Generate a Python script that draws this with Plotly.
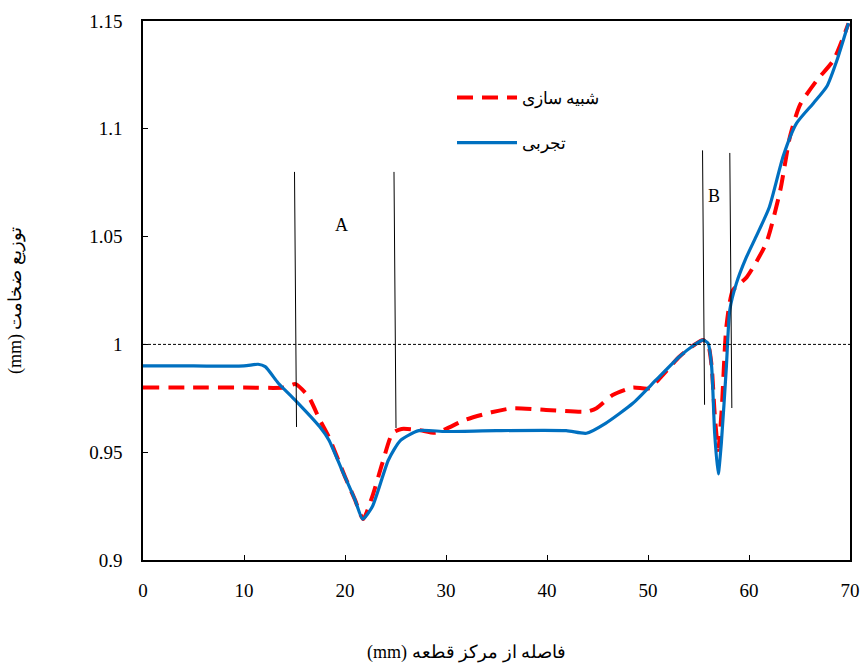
import plotly.graph_objects as go

# Simulation (red dashed)
sim_x = [0, 5, 10, 14, 15.1, 16.4, 17.5, 18.4, 20.0, 21.0, 21.8, 22.7, 23.7, 24.7, 25.6, 27.3, 29.0,
         31.9, 34.5, 36.6, 39.9, 43.9, 44.9, 46.5, 48.5, 50.1, 51.5, 53.1, 54.5, 55.45, 55.95, 56.3,
         56.6, 56.95, 57.3, 57.76, 58.4, 59.75, 61.7, 63.1, 64.05, 65.04, 66.7, 68.35, 69.85]
sim_y = [0.980, 0.980, 0.980, 0.980, 0.9816, 0.9757, 0.965, 0.957, 0.9386, 0.9278, 0.919, 0.9294,
         0.9449, 0.9588, 0.9608, 0.9603, 0.959, 0.965, 0.9685, 0.9704, 0.9696, 0.9688, 0.9704, 0.9765,
         0.980, 0.9796, 0.986, 0.9943, 0.9995, 1.002, 1.000, 0.990, 0.968, 0.951, 0.970, 1.0082, 1.025,
         1.031, 1.047, 1.0716, 1.0963, 1.111, 1.1224, 1.1317, 1.1489]

# Experimental (blue solid)
exp_x = [0, 5, 10, 11.4, 12.1, 13.4, 15.06, 17.5, 18.4, 19.7, 21.0, 21.75, 22.7, 24.3, 25.5, 27.3,
         29.96, 35, 41.9, 43.9, 45.8, 48.5, 50.8, 53.1, 54.5, 55.45, 55.95, 56.3, 56.6, 56.95, 57.26,
         57.76, 58.1, 58.75, 59.7, 60.7, 62.0, 63.4, 64.7, 66.4, 67.7, 68.7, 69.85]
exp_y = [0.990, 0.990, 0.990, 0.9908, 0.9897, 0.982, 0.9742, 0.9618, 0.9557, 0.9417, 0.9278, 0.919,
         0.9247, 0.9464, 0.9555, 0.960, 0.9596, 0.960, 0.960, 0.9588, 0.9634, 0.9727, 0.9835, 0.9943,
         0.9995, 1.002, 1.0005, 0.9897, 0.9588, 0.9399, 0.9541, 0.9897, 1.016, 1.0283, 1.040, 1.050,
         1.0635, 1.0875, 1.1025, 1.112, 1.1196, 1.1317, 1.149]

# Region marker lines: x start/end, y start/end
marker_x0 = [15.0, 24.85, 55.4, 58.1]
marker_x1 = [15.2, 25.05, 55.6, 58.3]
marker_y0 = [1.080, 1.080, 1.090, 1.0888]
marker_y1 = [0.9617, 0.9612, 0.972, 0.9705]

region_labels = ["A", "B"]
region_x = [19.7, 56.5]
region_y = [1.0554, 1.069]

x_ticks = [0, 10, 20, 30, 40, 50, 60, 70]
y_ticks = [0.9, 0.95, 1.0, 1.05, 1.1, 1.15]
y_tick_text = ["0.9", "0.95", "1", "1.05", "1.1", "1.15"]

x_title = "(mm) فاصله از مرکز قطعه"
y_title = "(mm) توزیع ضخامت"

FONT = "Liberation Serif"
L, R, T, B = 143, 14, 21, 103
PW, PH = 864 - L - R, 663 - T - B

fig = go.Figure()
fig.add_trace(go.Scatter(x=sim_x, y=sim_y, mode="lines", name="شبیه سازی",
                         line=dict(color="#FF0000", width=4, dash="16px,9px", shape="spline", smoothing=0.6),
                         legendgroup="a"))
fig.add_trace(go.Scatter(x=exp_x, y=exp_y, mode="lines", name="تجربی",
                         line=dict(color="#0070C0", width=3.2, shape="spline", smoothing=0.6),
                         legendgroup="b"))

shapes = [dict(type="line", xref="x", yref="y", x0=0, x1=70, y0=1.0, y1=1.0,
               line=dict(color="black", width=1, dash="3px,2px"))]
for x0, x1, y0, y1 in zip(marker_x0, marker_x1, marker_y0, marker_y1):
    shapes.append(dict(type="line", xref="x", yref="y", x0=x0, x1=x1, y0=y0, y1=y1,
                       line=dict(color="black", width=1)))

annotations = []
for t, ax, ay in zip(region_labels, region_x, region_y):
    annotations.append(dict(text=t, x=ax, y=ay, xref="x", yref="y", showarrow=False,
                            font=dict(family=FONT, size=18, color="black")))
annotations.append(dict(text=x_title, x=(466 - L) / PW, y=-(652 - 560) / PH,
                        xref="paper", yref="paper", showarrow=False, xanchor="center", yanchor="middle",
                        font=dict(family=FONT, size=18, color="black")))
annotations.append(dict(text=y_title, x=-(L - 15) / PW, y=(560 - 301) / PH,
                        xref="paper", yref="paper", showarrow=False, textangle=-90,
                        xanchor="center", yanchor="middle",
                        font=dict(family=FONT, size=18, color="black")))

fig.update_layout(
    width=864, height=663,
    margin=dict(l=L, r=R, t=T, b=B, autoexpand=False),
    paper_bgcolor="white", plot_bgcolor="white",
    font=dict(family=FONT, size=18, color="black"),
    showlegend=True,
    legend=dict(x=(452 - L) / PW, y=(560 - 80) / PH, xanchor="left", yanchor="top",
                bgcolor="rgba(0,0,0,0)", font=dict(family=FONT, size=17),
                traceorder="grouped", tracegroupgap=20, itemwidth=60),
    shapes=shapes, annotations=annotations,
)
fig.update_xaxes(range=[0, 70], tickvals=x_ticks, showgrid=False, zeroline=False,
                 showline=True, linecolor="black", linewidth=1.5, mirror=True,
                 ticks="inside", ticklen=5, tickcolor="black", automargin=False,
                 ticklabelstandoff=12,
                 tickfont=dict(family=FONT, size=19))
fig.update_yaxes(range=[0.9, 1.15], tickvals=y_ticks, ticktext=y_tick_text, showgrid=False,
                 zeroline=False, showline=True, linecolor="black", linewidth=1.5, mirror=True,
                 ticks="inside", ticklen=5, tickcolor="black", automargin=False,
                 ticklabelstandoff=15,
                 tickfont=dict(family=FONT, size=19))

fig.write_html("out.html")
